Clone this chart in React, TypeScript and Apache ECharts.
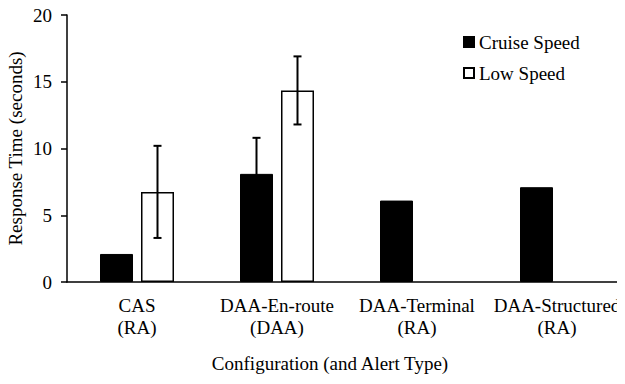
import React, { useEffect, useRef } from "react";
import * as echarts from "echarts";

const categories = ["CAS\n(RA)", "DAA-En-route\n(DAA)", "DAA-Terminal\n(RA)", "DAA-Structured\n(RA)"];
const cruiseSpeed = [2.1, 8.1, 6.1, 7.1];
const lowSpeed = [6.75, 14.35, null, null];
const cruiseErr = [null, 2.7, null, null];
const lowErr = [3.45, 2.55, null, null];
const yTicks = [0, 5, 10, 15, 20];

const FONT = "'Liberation Serif', 'Times New Roman', serif";
const BAR_W = 33;
const BAR_GAP = 8;

function errData(vals: (number | null)[], errs: (number | null)[]) {
  const out: number[][] = [];
  vals.forEach((v, i) => {
    const e = errs[i];
    if (v != null && e != null) out.push([i, v, e]);
  });
  return out;
}

function makeErrRender(sign: number) {
  return (params: any, api: any) => {
    const x = api.value(0);
    const v = api.value(1);
    const e = api.value(2);
    const top = api.coord([x, v + e]);
    const bot = api.coord([x, v - e]);
    const cx = top[0] + sign * (BAR_W + BAR_GAP) / 2;
    const capHalf = 4;
    const style = { stroke: "#000", lineWidth: 2 };
    return {
      type: "group",
      children: [
        { type: "line", shape: { x1: cx, y1: top[1], x2: cx, y2: bot[1] }, style },
        { type: "line", shape: { x1: cx - capHalf, y1: top[1], x2: cx + capHalf, y2: top[1] }, style },
        { type: "line", shape: { x1: cx - capHalf, y1: bot[1], x2: cx + capHalf, y2: bot[1] }, style },
      ],
    };
  };
}

export default function App() {
  const ref = useRef<HTMLDivElement>(null);
  useEffect(() => {
    if (!ref.current) return;
    const chart = echarts.init(ref.current, null, { renderer: "svg" });
    chart.setOption({
      animation: false,
      backgroundColor: "#fff",
      textStyle: { fontFamily: FONT, color: "#000", fontSize: 19 },
      grid: { left: 67, width: 560, top: 15, bottom: 102, outerBoundsMode: "none" },
      legend: {
        orient: "vertical",
        left: 463,
        top: 32,
        padding: 0,
        itemWidth: 10,
        itemHeight: 10,
        itemGap: 11,
        icon: "rect",
        data: ["Cruise Speed", "Low Speed"],
        textStyle: { fontFamily: FONT, fontSize: 19, color: "#000", lineHeight: 20 },
      },
      xAxis: {
        type: "category",
        data: categories,
        name: "Configuration (and Alert Type)",
        nameLocation: "middle",
        nameGap: 72,
        nameMoveOverlap: false,
        nameTextStyle: { fontFamily: FONT, fontSize: 19, color: "#000", padding: [0, 34, 0, 0] },
        axisLine: { lineStyle: { color: "#000", width: 1.5 } },
        axisTick: { show: false },
        axisLabel: { fontFamily: FONT, fontSize: 19, color: "#000", lineHeight: 22, margin: 12, interval: 0 },
      },
      yAxis: {
        type: "value",
        min: yTicks[0],
        max: yTicks[yTicks.length - 1],
        interval: 5,
        name: "Response Time (seconds)",
        nameLocation: "middle",
        nameGap: 42,
        nameMoveOverlap: false,
        nameTextStyle: { fontFamily: FONT, fontSize: 19, color: "#000" },
        axisLine: { show: true, lineStyle: { color: "#000", width: 1.5 } },
        axisTick: { show: true, length: 6, lineStyle: { color: "#000", width: 1.5 } },
        splitLine: { show: false },
        axisLabel: { fontFamily: FONT, fontSize: 19, color: "#000", margin: 15 },
      },
      series: [
        {
          name: "Cruise Speed",
          type: "bar",
          data: cruiseSpeed,
          barWidth: BAR_W,
          barGap: `${(BAR_GAP / BAR_W) * 100}%`,
          itemStyle: { color: "#000", borderColor: "#000", borderWidth: 1 },
        },
        {
          name: "Low Speed",
          type: "bar",
          data: lowSpeed,
          barWidth: BAR_W,
          itemStyle: { color: "#fff", borderColor: "#000", borderWidth: 1.5 },
        },
        {
          name: "cruiseErr",
          type: "custom",
          data: errData(cruiseSpeed, cruiseErr),
          encode: { x: 0, y: 1 },
          renderItem: makeErrRender(-1),
          z: 10,
        },
        {
          name: "lowErr",
          type: "custom",
          data: errData(lowSpeed, lowErr),
          encode: { x: 0, y: 1 },
          renderItem: makeErrRender(1),
          z: 10,
        },
      ],
    });
    return () => chart.dispose();
  }, []);
  return <div ref={ref} style={{ width: 625, height: 384, margin: -8 }} />;
}
